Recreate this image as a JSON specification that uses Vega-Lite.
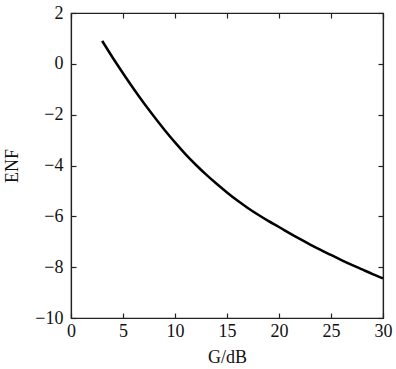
{
  "$schema": "https://vega.github.io/schema/vega-lite/v6.json",
  "width": 312,
  "height": 305,
  "autosize": "none",
  "padding": {"left": 71, "top": 13, "right": 13, "bottom": 51},
  "background": "white",
  "config": {
    "view": {"stroke": "#222222", "strokeWidth": 1.2},
    "axis": {
      "labelFont": "Liberation Serif",
      "titleFont": "Liberation Serif",
      "labelFontSize": 18,
      "titleFontSize": 18,
      "titleFontWeight": "normal",
      "labelColor": "#111111",
      "titleColor": "#111111",
      "domainColor": "#222222",
      "tickColor": "#222222",
      "domainWidth": 1.2,
      "tickWidth": 1.2,
      "tickSize": -5,
      "labelFlush": false,
      "grid": false
    }
  },
  "data": {
    "values": [
      {"G": 3, "ENF": 0.9},
      {"G": 4, "ENF": 0.25},
      {"G": 5, "ENF": -0.37},
      {"G": 6, "ENF": -0.97},
      {"G": 7, "ENF": -1.54},
      {"G": 8, "ENF": -2.08},
      {"G": 9, "ENF": -2.6},
      {"G": 10, "ENF": -3.09},
      {"G": 11, "ENF": -3.55},
      {"G": 12, "ENF": -3.97},
      {"G": 13, "ENF": -4.36},
      {"G": 14, "ENF": -4.72},
      {"G": 15, "ENF": -5.06},
      {"G": 16, "ENF": -5.38},
      {"G": 17, "ENF": -5.67},
      {"G": 18, "ENF": -5.94},
      {"G": 19, "ENF": -6.19},
      {"G": 20, "ENF": -6.42},
      {"G": 21, "ENF": -6.66},
      {"G": 22, "ENF": -6.89},
      {"G": 23, "ENF": -7.11},
      {"G": 24, "ENF": -7.32},
      {"G": 25, "ENF": -7.52},
      {"G": 26, "ENF": -7.72},
      {"G": 27, "ENF": -7.91},
      {"G": 28, "ENF": -8.09},
      {"G": 29, "ENF": -8.27},
      {"G": 30, "ENF": -8.44}
    ]
  },
  "resolve": {"axis": {"x": "independent", "y": "independent"}},
  "layer": [
    {
      "mark": {"type": "line", "color": "black", "strokeWidth": 2.5, "interpolate": "monotone"},
      "encoding": {
        "x": {"field": "G", "type": "quantitative", "scale": {"domain": [0, 30], "nice": false},
              "axis": {"orient": "bottom", "title": "G/dB", "values": [0, 5, 10, 15, 20, 25, 30], "labelPadding": 9, "titlePadding": 8}},
        "y": {"field": "ENF", "type": "quantitative", "scale": {"domain": [-10, 2], "nice": false},
              "axis": {"orient": "left", "title": "ENF", "values": [-10, -8, -6, -4, -2, 0, 2], "labelPadding": 13, "titlePadding": 13}}
      }
    },
    {
      "mark": {"type": "line", "opacity": 0},
      "encoding": {
        "x": {"field": "G", "type": "quantitative",
              "axis": {"orient": "top", "title": null, "labels": false, "values": [0, 5, 10, 15, 20, 25, 30]}},
        "y": {"field": "ENF", "type": "quantitative",
              "axis": {"orient": "right", "title": null, "labels": false, "values": [-10, -8, -6, -4, -2, 0, 2]}}
      }
    }
  ]
}
